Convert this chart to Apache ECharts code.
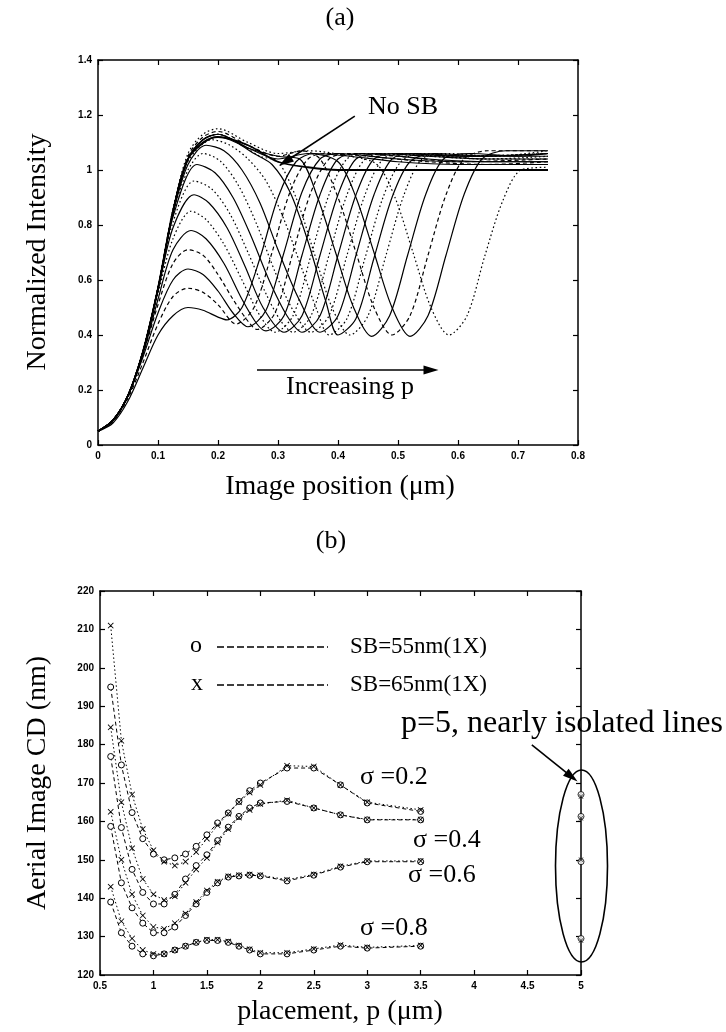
<!DOCTYPE html>
<html><head><meta charset="utf-8">
<script src="https://cdn.jsdelivr.net/npm/echarts@6/dist/echarts.min.js"></script>
<style>html,body{margin:0;padding:0;background:#fff}#c{width:726px;height:1032px}</style>
</head><body><div id="c"></div>
<script>
// ---------- Panel (a): normalized intensity profiles ----------
const c01 = [[0,0.05],[0.025,0.08],[0.05,0.16],[0.075,0.28],[0.1,0.40],[0.125,0.47],[0.15,0.50],[0.175,0.49],[0.2,0.465],[0.215,0.455],[0.24,0.50],[0.27,0.68],[0.3,0.90],[0.33,1.03],[0.36,1.06],[0.42,1.05],[0.5,1.03],[0.6,1.02],[0.75,1.02]];
const c02 = [[0,0.05],[0.025,0.085],[0.05,0.17],[0.075,0.30],[0.1,0.44],[0.125,0.54],[0.15,0.57],[0.175,0.555],[0.2,0.51],[0.23,0.44],[0.26,0.50],[0.29,0.70],[0.32,0.92],[0.35,1.04],[0.38,1.06],[0.45,1.05],[0.55,1.03],[0.65,1.02],[0.75,1.03]];
const c03 = [[0,0.05],[0.025,0.09],[0.05,0.18],[0.075,0.32],[0.1,0.48],[0.125,0.60],[0.15,0.64],[0.175,0.62],[0.2,0.56],[0.225,0.48],[0.25,0.43],[0.28,0.49],[0.31,0.70],[0.34,0.92],[0.37,1.04],[0.4,1.06],[0.5,1.04],[0.6,1.03],[0.75,1.03]];
const c04 = [[0,0.05],[0.025,0.09],[0.05,0.18],[0.075,0.33],[0.1,0.51],[0.125,0.66],[0.15,0.71],[0.175,0.69],[0.2,0.62],[0.225,0.53],[0.25,0.45],[0.265,0.42],[0.295,0.48],[0.325,0.70],[0.355,0.92],[0.385,1.04],[0.42,1.06],[0.5,1.05],[0.6,1.03],[0.75,1.04]];
const c05 = [[0,0.05],[0.025,0.09],[0.05,0.18],[0.075,0.33],[0.1,0.53],[0.125,0.71],[0.155,0.78],[0.18,0.75],[0.21,0.66],[0.24,0.53],[0.265,0.44],[0.28,0.415],[0.31,0.47],[0.34,0.69],[0.37,0.91],[0.4,1.04],[0.44,1.06],[0.55,1.04],[0.65,1.03],[0.75,1.03]];
const c06 = [[0,0.05],[0.025,0.09],[0.05,0.18],[0.075,0.34],[0.1,0.55],[0.125,0.75],[0.155,0.85],[0.18,0.82],[0.21,0.73],[0.24,0.60],[0.27,0.47],[0.295,0.41],[0.325,0.47],[0.355,0.69],[0.385,0.91],[0.415,1.04],[0.45,1.06],[0.55,1.05],[0.65,1.04],[0.75,1.04]];
const c07 = [[0,0.05],[0.025,0.09],[0.05,0.18],[0.075,0.34],[0.1,0.56],[0.125,0.79],[0.16,0.91],[0.185,0.88],[0.215,0.79],[0.245,0.65],[0.275,0.50],[0.31,0.41],[0.34,0.47],[0.37,0.69],[0.4,0.91],[0.43,1.04],[0.47,1.06],[0.55,1.05],[0.65,1.04],[0.75,1.04]];
const c08 = [[0,0.05],[0.025,0.09],[0.05,0.18],[0.075,0.34],[0.1,0.56],[0.125,0.81],[0.16,0.96],[0.19,0.93],[0.22,0.84],[0.25,0.70],[0.28,0.55],[0.305,0.45],[0.325,0.41],[0.355,0.47],[0.385,0.69],[0.415,0.91],[0.445,1.04],[0.48,1.06],[0.57,1.05],[0.65,1.04],[0.75,1.05]];
const c09 = [[0,0.05],[0.025,0.09],[0.05,0.18],[0.075,0.34],[0.1,0.57],[0.125,0.83],[0.165,1.02],[0.195,0.99],[0.225,0.90],[0.255,0.76],[0.285,0.60],[0.315,0.47],[0.34,0.41],[0.37,0.47],[0.4,0.69],[0.43,0.91],[0.46,1.04],[0.5,1.06],[0.6,1.05],[0.75,1.05]];
const c10 = [[0,0.05],[0.025,0.09],[0.05,0.18],[0.075,0.34],[0.1,0.57],[0.125,0.84],[0.15,1.0],[0.175,1.06],[0.205,1.03],[0.235,0.94],[0.265,0.80],[0.295,0.63],[0.325,0.49],[0.355,0.41],[0.385,0.47],[0.415,0.69],[0.445,0.91],[0.475,1.04],[0.51,1.06],[0.6,1.05],[0.75,1.06]];
const c11 = [[0,0.05],[0.025,0.09],[0.05,0.18],[0.075,0.34],[0.1,0.57],[0.125,0.84],[0.15,1.02],[0.18,1.09],[0.21,1.07],[0.24,1.0],[0.27,0.88],[0.3,0.71],[0.335,0.53],[0.37,0.41],[0.4,0.47],[0.43,0.69],[0.46,0.91],[0.49,1.04],[0.53,1.06],[0.62,1.05],[0.75,1.06]];
const c12 = [[0,0.05],[0.025,0.09],[0.05,0.18],[0.075,0.34],[0.1,0.57],[0.125,0.85],[0.15,1.03],[0.19,1.11],[0.22,1.09],[0.25,1.04],[0.28,0.96],[0.31,0.82],[0.34,0.64],[0.365,0.49],[0.385,0.40],[0.415,0.46],[0.445,0.68],[0.475,0.90],[0.505,1.03],[0.54,1.06],[0.63,1.05],[0.75,1.06]];
const c13 = [[0,0.05],[0.025,0.09],[0.05,0.18],[0.075,0.34],[0.1,0.57],[0.125,0.85],[0.15,1.04],[0.2,1.12],[0.23,1.10],[0.26,1.06],[0.29,1.02],[0.32,0.92],[0.35,0.74],[0.38,0.52],[0.40,0.40],[0.43,0.46],[0.46,0.68],[0.49,0.90],[0.52,1.03],[0.56,1.06],[0.65,1.05],[0.75,1.06]];
const c14 = [[0,0.05],[0.025,0.09],[0.05,0.18],[0.075,0.34],[0.1,0.57],[0.125,0.85],[0.15,1.04],[0.175,1.11],[0.2,1.13],[0.24,1.09],[0.27,1.05],[0.30,1.03],[0.33,0.90],[0.36,0.70],[0.39,0.50],[0.42,0.40],[0.45,0.47],[0.48,0.69],[0.51,0.91],[0.54,1.04],[0.58,1.06],[0.66,1.05],[0.75,1.07]];
const c15 = [[0,0.05],[0.025,0.09],[0.05,0.18],[0.075,0.34],[0.1,0.57],[0.125,0.85],[0.15,1.04],[0.175,1.11],[0.2,1.13],[0.25,1.08],[0.3,1.05],[0.336,1.04],[0.366,0.90],[0.396,0.70],[0.426,0.50],[0.456,0.395],[0.486,0.47],[0.516,0.69],[0.546,0.91],[0.576,1.04],[0.62,1.06],[0.7,1.05],[0.75,1.06]];
const c16 = [[0,0.05],[0.025,0.09],[0.05,0.18],[0.075,0.34],[0.1,0.57],[0.125,0.85],[0.15,1.05],[0.175,1.12],[0.2,1.14],[0.25,1.09],[0.3,1.05],[0.34,1.07],[0.37,1.04],[0.40,0.90],[0.43,0.70],[0.46,0.50],[0.49,0.40],[0.52,0.47],[0.55,0.69],[0.58,0.91],[0.61,1.04],[0.65,1.07],[0.75,1.07]];
const c17 = [[0,0.05],[0.025,0.09],[0.05,0.18],[0.075,0.34],[0.1,0.57],[0.125,0.85],[0.15,1.04],[0.175,1.11],[0.2,1.13],[0.25,1.08],[0.3,1.04],[0.35,1.06],[0.40,1.03],[0.43,0.90],[0.46,0.70],[0.49,0.50],[0.52,0.395],[0.55,0.47],[0.58,0.69],[0.61,0.91],[0.64,1.04],[0.68,1.07],[0.75,1.07]];
const c18 = [[0,0.05],[0.025,0.09],[0.05,0.18],[0.075,0.34],[0.1,0.57],[0.125,0.86],[0.15,1.06],[0.175,1.13],[0.2,1.15],[0.25,1.10],[0.3,1.06],[0.35,1.07],[0.42,1.05],[0.465,1.02],[0.495,0.90],[0.525,0.70],[0.555,0.50],[0.585,0.40],[0.615,0.47],[0.645,0.69],[0.675,0.89],[0.705,1.0],[0.75,1.01]];
const cNoSB = [[0,0.05],[0.025,0.09],[0.05,0.18],[0.075,0.34],[0.1,0.57],[0.125,0.85],[0.15,1.04],[0.175,1.10],[0.2,1.12],[0.25,1.09],[0.3,1.03],[0.35,1.01],[0.4,1.0],[0.5,1.0],[0.6,1.0],[0.75,1.0]];
const curveList = [c01,c02,c03,c04,c05,c06,c07,c08,c09,c10,c11,c12,c13,c14,c15,c16,c17,c18];
const curveStyles = ['solid','dashed','solid','dashed','solid','dotted','solid','dotted','solid','dotted','solid','dotted','solid','dotted','solid','dashed','solid','dotted'];

// ---------- Panel (b): aerial image CD ----------
const placement = [0.6,0.7,0.8,0.9,1.0,1.1,1.2,1.3,1.4,1.5,1.6,1.7,1.8,1.9,2.0,2.25,2.5,2.75,3.0,3.5];
const cd02o = [195,174.7,162.3,155.5,151.5,150,150.5,151.5,153.5,156.5,159.6,162.2,165.2,168,170,173.9,173.9,169.5,164.8,162.6];
const cd02x = [211,181,167,158,152.5,149.5,148.5,149.5,152,155.5,159,162,165,167.5,169.5,174.5,174.3,169.5,165,163];
const cd04o = [176.9,158.4,147.5,141.5,138.5,138.5,141,145,148.5,151.3,155,158.5,161.3,163.5,164.8,165.2,163.5,161.7,160.4,160.4];
const cd04x = [184.5,165,153,145,141,139.5,140.5,144,147.5,150.5,154.5,158,161,163,164.5,165.5,163.5,161.7,160.5,160.5];
const cd06o = [158.7,144,137.5,133.5,131,131,132.5,135.5,138.5,141.5,144,145.5,145.8,146,145.8,144.5,146,148.1,149.5,149.5];
const cd06x = [162.5,150,141,135.5,132.5,132,133.5,136,139,142,144.3,145.7,146,146.2,146,144.8,146.2,148.3,149.7,149.7];
const cd08o = [139,131,127.5,125.5,125,125.5,126.5,127.5,128.5,129,129,128.5,127.5,126.5,125.5,125.5,126.5,127.5,127,127.5];
const cd08x = [143,134,129.5,126.5,125.5,125.5,126.5,127.5,128.5,129.2,129.2,128.7,127.7,126.7,125.8,125.8,126.8,127.8,127.2,127.7];
const isoP = 5;
const isoO = [167,161.3,149.5,129.5];
const isoX = [166.5,160.8,150,129];

const xTicksA = {min:0,max:0.8,interval:0.1};
const yTicksA = {min:0,max:1.4,interval:0.2};
const xTicksB = {min:0.5,max:5,interval:0.5};
const yTicksB = {min:120,max:220,interval:10};

const serif = 'Liberation Serif';
const chart = echarts.init(document.getElementById('c'), null, {renderer:'canvas'});

function axis(gridIndex, position, ticks, showLabel) {
  return {
    type:'value', gridIndex, position, min:ticks.min, max:ticks.max, interval:ticks.interval,
    axisLine:{show:true, onZero:false, lineStyle:{color:'#000', width:1.5}},
    axisTick:{show:true, inside:true, length:5, lineStyle:{color:'#000', width:1.2}},
    axisLabel:{show:showLabel, color:'#000', fontFamily:'Liberation Sans', fontWeight:'bold', fontSize:10, margin:6},
    splitLine:{show:false}
  };
}

function arrowLine(from, to) {
  return [{coord:from, symbol:'none'}, {coord:to, symbol:'triangle', symbolSize:[9,15]}];
}
function markArrows(list) {
  return {silent:true, animation:false, symbol:['none','triangle'], symbolSize:12,
    label:{show:false}, emphasis:{disabled:true}, lineStyle:{color:'#000', width:1.6, type:'solid'},
    itemStyle:{color:'#000'}, data:list};
}

const series = [];
curveList.forEach((d,i)=>{
  const st = curveStyles[i];
  series.push({
    type:'line', xAxisIndex:0, yAxisIndex:0, data:d, showSymbol:false, smooth:0.3,
    lineStyle:{color:'#000', width:1.2, type: st==='dotted'?[1.6,2.6]:(st==='dashed'?[4,3]:'solid')},
    silent:true, animation:false, z:2
  });
});
series.push({
  type:'line', xAxisIndex:0, yAxisIndex:0, data:cNoSB, showSymbol:false, smooth:0.3,
  lineStyle:{color:'#000', width:1.8}, silent:true, animation:false, z:3,
  markLine: markArrows([arrowLine([0.428,1.196],[0.312,1.03]), arrowLine([0.265,0.273],[0.555,0.273])])
});

const oSym = 'circle';
const xSym = 'path://M0,1L1,0L5,4L9,0L10,1L6,5L10,9L9,10L5,6L1,10L0,9L4,5Z';
function cdSeries(vals, isO) {
  return {
    type:'line', xAxisIndex:2, yAxisIndex:2, data:placement.map((p,i)=>[p, vals[i]]),
    symbol: isO?oSym:xSym, symbolSize:6, showSymbol:true,
    itemStyle: isO?{color:'#fff', borderColor:'#000', borderWidth:1}:{color:'#000', borderColor:'#000', borderWidth:0},
    lineStyle:{color:'#000', width:1, type: isO?[4,3]:[1.5,2.5]},
    silent:true, animation:false
  };
}
series.push(cdSeries(cd02o,true), cdSeries(cd02x,false), cdSeries(cd04o,true), cdSeries(cd04x,false),
            cdSeries(cd06o,true), cdSeries(cd06x,false), cdSeries(cd08o,true), cdSeries(cd08x,false));
series.push({type:'scatter', xAxisIndex:2, yAxisIndex:2, data:isoO.map(v=>[isoP,v]), symbol:oSym, symbolSize:6,
  itemStyle:{color:'#fff', borderColor:'#000', borderWidth:1}, silent:true, animation:false, clip:false});
series.push({type:'scatter', xAxisIndex:2, yAxisIndex:2, data:isoX.map(v=>[isoP,v]), symbol:xSym, symbolSize:5,
  itemStyle:{color:'#000'}, silent:true, animation:false, clip:false,
  markLine: markArrows([arrowLine([4.54,179.9],[4.913,171.6])])
});

function txt(x,y,text,size,opts) {
  return Object.assign({type:'text', x, y, silent:true, z:100, style:{text, fill:'#000', font: size+'px "'+serif+'"',
    textAlign:'center', textVerticalAlign:'middle', verticalAlign:'middle'}}, opts||{});
}
function txtL(x,y,text,size) {
  const t = txt(x,y,text,size); t.style.textAlign='left'; return t;
}

const graphics = [
  txt(340,18,'(a)',26),
  txt(38,252,'Normalized Intensity',28,{rotation:Math.PI/2}),
  txt(340,487,'Image position (\u03bcm)',28),
  txt(403,107,'No SB',26),
  txt(350,387,'Increasing p',26),
  txt(331,541,'(b)',26),
  txt(38,783,'Aerial Image CD (nm)',28,{rotation:Math.PI/2}),
  txt(340,1012,'placement, p (\u03bcm)',28),
  txt(196,646,'o',24),
  txt(197,684,'x',24),
  {type:'line', silent:true, shape:{x1:217,y1:647,x2:328,y2:647}, style:{stroke:'#000', lineWidth:1.3, lineDash:[7,3]}},
  {type:'line', silent:true, shape:{x1:217,y1:685,x2:328,y2:685}, style:{stroke:'#000', lineWidth:1.3, lineDash:[7,3]}},
  txtL(350,647,'SB=55nm(1X)',23),
  txtL(350,685,'SB=65nm(1X)',23),
  txtL(401,724,'p=5, nearly isolated lines',32),
  txtL(360,777,'\u03c3 =0.2',26),
  txtL(413,840,'\u03c3 =0.4',26),
  txtL(408,875,'\u03c3 =0.6',26),
  txtL(360,928,'\u03c3 =0.8',26),
  {type:'ellipse', silent:true, shape:{cx:581.5, cy:866, rx:26, ry:96}, style:{fill:'none', stroke:'#000', lineWidth:1.6}}
];

chart.setOption({
  backgroundColor:'#fff',
  animation:false,
  grid:[
    {left:98, top:60, width:480, height:385},
    {left:100, top:591, width:481, height:384}
  ],
  xAxis:[axis(0,'bottom',xTicksA,true), axis(0,'top',xTicksA,false), axis(1,'bottom',xTicksB,true), axis(1,'top',xTicksB,false)],
  yAxis:[axis(0,'left',yTicksA,true), axis(0,'right',yTicksA,false), axis(1,'left',yTicksB,true), axis(1,'right',yTicksB,false)],
  series,
  graphic: graphics
});
</script></body></html>
